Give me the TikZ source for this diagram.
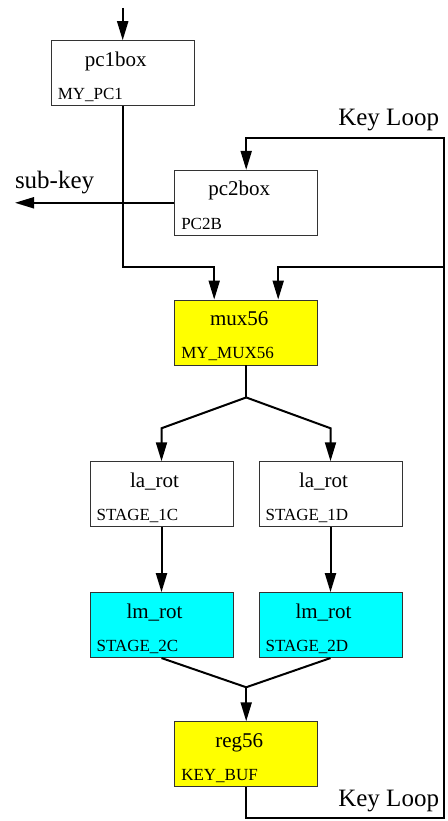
\documentclass[tikz,border=0pt]{standalone}
\usepackage{fontspec}
\setmainfont{Liberation Serif}
\usetikzlibrary{arrows.meta,positioning}

\definecolor{regyellow}{RGB}{255,255,0}
\definecolor{rotcyan}{RGB}{0,255,255}

\newcommand{\titlefont}{\fontsize{21}{25}\selectfont}
\newcommand{\instfont}{\fontsize{17}{20}\selectfont}
\newcommand{\bigfont}{\fontsize{25}{30}\selectfont}

\begin{document}
\begin{tikzpicture}[x=1pt,y=-1pt,->,>={Triangle[length=19pt,width=11pt]},line width=2pt,node distance=65pt]
  \tikzstyle{blk}=[draw=black!80,line width=0.9pt,minimum width=143pt,minimum height=65pt,inner sep=0pt]
  \tikzstyle{ttl}=[font=\titlefont,anchor=base,inner sep=0pt,xshift=-7pt,yshift=-26pt]
  \tikzstyle{inst}=[font=\instfont,anchor=base west,inner sep=0pt,xshift=6pt,yshift=6.5pt]
  \useasboundingbox (0,0) rectangle (447,821);

  \node[blk,label={[ttl]north:pc1box},label={[inst]south west:MY\_PC1}] (pc1) at (122.7,73.2) {};
  \node[blk,label={[ttl]north:pc2box},label={[inst]south west:PC2B}] (pc2) at (246.2,202.8) {};
  \node[blk,fill=regyellow,label={[ttl]north:mux56},label={[inst]south west:MY\_MUX56}] (mux) at (246.2,332.5) {};
  \node[blk,label={[ttl]north:la\_rot},label={[inst]south west:STAGE\_1C}] (la1) at (161.5,494.2) {};
  \node[blk,label={[ttl]north:la\_rot},label={[inst]south west:STAGE\_1D}] (la2) at (330.5,494.2) {};
  \node[blk,fill=rotcyan,label={[ttl]north:lm\_rot},label={[inst]south west:STAGE\_2C}] (lm1) [below=of la1] {};
  \node[blk,fill=rotcyan,label={[ttl]north:lm\_rot},label={[inst]south west:STAGE\_2D}] (lm2) [below=of la2] {};
  \node[blk,fill=regyellow,label={[ttl]north:reg56},label={[inst]south west:KEY\_BUF}] (reg) at (246.2,754.2) {};

  \coordinate (in) at (122.7,8);
  \coordinate (subkey) at (15,202.8);
  \coordinate (looptr) at (444,138);
  \coordinate (loopbr) at (444,818);
  \coordinate (tap) at (444,267);
  \coordinate (fork) at ([yshift=-32pt]mux.south);
  \coordinate (merge) at ([yshift=34pt]reg.north);

  \node[font=\bigfont,anchor=base west,inner sep=0pt] at (14,189) {sub-key};
  \node[font=\bigfont,anchor=base east,inner sep=0pt] at (440,126) {Key Loop};
  \node[font=\bigfont,anchor=base east,inner sep=0pt] at (440,806) {Key Loop};

  % input and outputs of the key schedule
  \draw (in) -- (pc1.north);
  \draw (pc1.south) -- ++(0,161) -| ([xshift=-32pt]mux.north);
  \draw (pc2.west) -- (subkey);
  % feedback from the register
  \draw (reg.south) |- (loopbr) -- (looptr) -| (pc2.north);
  \draw (tap) -| ([xshift=32pt]mux.north);
  % rotation stages
  \draw[-] (mux.south) -- (fork);
  \draw (fork) -- ([yshift=33pt]la1.north) -- (la1.north);
  \draw (fork) -- ([yshift=33pt]la2.north) -- (la2.north);
  \draw (la1) -- (lm1);
  \draw (la2) -- (lm2);
  \draw[-] (lm1.south) -- (merge);
  \draw[-] (lm2.south) -- (merge);
  \draw (merge) -- (reg.north);
\end{tikzpicture}
\end{document}
